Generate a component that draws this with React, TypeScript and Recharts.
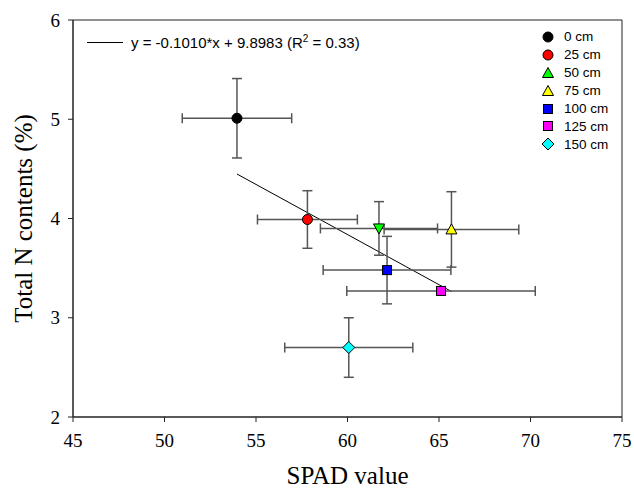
import {
  ScatterChart,
  Scatter,
  XAxis,
  YAxis,
  ErrorBar,
  ReferenceLine,
  ReferenceArea,
} from "recharts";

const depths = ["0 cm", "25 cm", "50 cm", "75 cm", "100 cm", "125 cm", "150 cm"];
const spad = [53.96, 57.81, 61.72, 65.68, 62.16, 65.11, 60.07];
const nContent = [5.01, 3.99, 3.9, 3.89, 3.48, 3.27, 2.7];
const spadErr = [2.99, 2.73, 3.2, 3.68, 3.49, 5.15, 3.5];
const nErr = [0.4, 0.29, 0.27, 0.38, 0.34, 0, 0.3];
const colors = ["#000000", "#ff0000", "#00ff00", "#ffff00", "#0000ff", "#ff00ff", "#00ffff"];
const shapes = ["circle", "circle", "triDown", "triUp", "square", "square", "diamond"];
const legendShapes = ["circle", "circle", "triUp", "triUp", "square", "square", "diamond"];

const xTicks = [45, 50, 55, 60, 65, 70, 75];
const yTicks = [2, 3, 4, 5, 6];

// regression from the figure
const slope = -0.101;
const intercept = 9.8983;
const fitX = [Math.min(...spad), Math.max(...spad)];

const serif = "'Liberation Serif', serif";
const sans = "'Liberation Sans', Arial, sans-serif";

const Marker = ({ kind, cx, cy, fill }: any) => {
  const s = { fill, stroke: "#000", strokeWidth: 1 };
  if (kind === "circle") return <circle cx={cx} cy={cy} r={5} {...s} />;
  if (kind === "square") return <rect x={cx - 4.5} y={cy - 4.5} width={9} height={9} {...s} />;
  if (kind === "triUp")
    return <polygon points={`${cx - 5.5},${cy + 4.5} ${cx + 5.5},${cy + 4.5} ${cx},${cy - 5.5}`} {...s} />;
  if (kind === "triDown")
    return <polygon points={`${cx - 5.5},${cy - 4.5} ${cx + 5.5},${cy - 4.5} ${cx},${cy + 5.5}`} {...s} />;
  return <polygon points={`${cx},${cy - 6} ${cx + 6},${cy} ${cx},${cy + 6} ${cx - 6},${cy}`} {...s} />;
};

export default function App() {
  return (
    <div style={{ position: "absolute", left: 0, top: 0, width: 634, height: 497, background: "#fff" }}>
      <ScatterChart width={634} height={497} margin={{ top: 20, right: 12, bottom: 40, left: 23 }}>
        <XAxis
          type="number"
          dataKey="x"
          domain={[45, 75]}
          ticks={xTicks}
          allowDataOverflow
          height={40}
          tickSize={5}
          tickMargin={12}
          stroke="#222"
          tick={{ fill: "#000", fontFamily: serif, fontSize: 19 }}
          label={{ value: "SPAD value", position: "insideBottom", offset: -27, fill: "#000", fontFamily: serif, fontSize: 25 }}
        />
        <YAxis
          type="number"
          dataKey="y"
          domain={[2, 6]}
          ticks={yTicks}
          allowDataOverflow
          width={50}
          tickSize={5}
          tickMargin={8}
          stroke="#222"
          tick={{ fill: "#000", fontFamily: serif, fontSize: 19 }}
          label={{ value: "Total N contents (%)", angle: -90, position: "insideLeft", offset: 0, fill: "#000", fontFamily: serif, fontSize: 25, style: { textAnchor: "middle" } }}
        />
        <ReferenceArea x1={45} x2={75} y1={2} y2={6} fill="none" stroke="#222" strokeWidth={1} />
        <ReferenceLine
          segment={[
            { x: fitX[0], y: slope * fitX[0] + intercept },
            { x: fitX[1], y: slope * fitX[1] + intercept },
          ]}
          stroke="#000"
          strokeWidth={1}
        />
        {depths.map((d, i) => (
          <Scatter
            key={d}
            name={d}
            data={[{ x: spad[i], y: nContent[i], ex: spadErr[i], ey: nErr[i] }]}
            fill={colors[i]}
            isAnimationActive={false}
            shape={(p: any) => <Marker kind={shapes[i]} cx={p.cx} cy={p.cy} fill={colors[i]} />}
          >
            <ErrorBar dataKey="ex" direction="x" width={5} stroke="#555" strokeWidth={1.5} />
            {nErr[i] > 0 && <ErrorBar dataKey="ey" direction="y" width={5} stroke="#555" strokeWidth={1.5} />}
          </Scatter>
        ))}
      </ScatterChart>

      <div style={{ position: "absolute", left: 87, top: 33, fontFamily: sans, fontSize: 15, color: "#000", display: "flex", alignItems: "center", whiteSpace: "nowrap" }}>
        <div style={{ width: 36, height: 0, borderTop: "1px solid #000", marginRight: 8 }} />
        <span>
          y = -0.1010*x + 9.8983 (R<sup style={{ fontSize: 10 }}>2</sup> = 0.33)
        </span>
      </div>

      <div style={{ position: "absolute", left: 540, top: 28, fontFamily: sans, fontSize: 13.5, color: "#000" }}>
        {depths.map((d, i) => (
          <div key={d} style={{ display: "flex", alignItems: "center", height: 17.9, whiteSpace: "nowrap" }}>
            <svg width={16} height={16} style={{ marginRight: 8 }}>
              <Marker kind={legendShapes[i]} cx={8} cy={8} fill={colors[i]} />
            </svg>
            <span>{d}</span>
          </div>
        ))}
      </div>
    </div>
  );
}
